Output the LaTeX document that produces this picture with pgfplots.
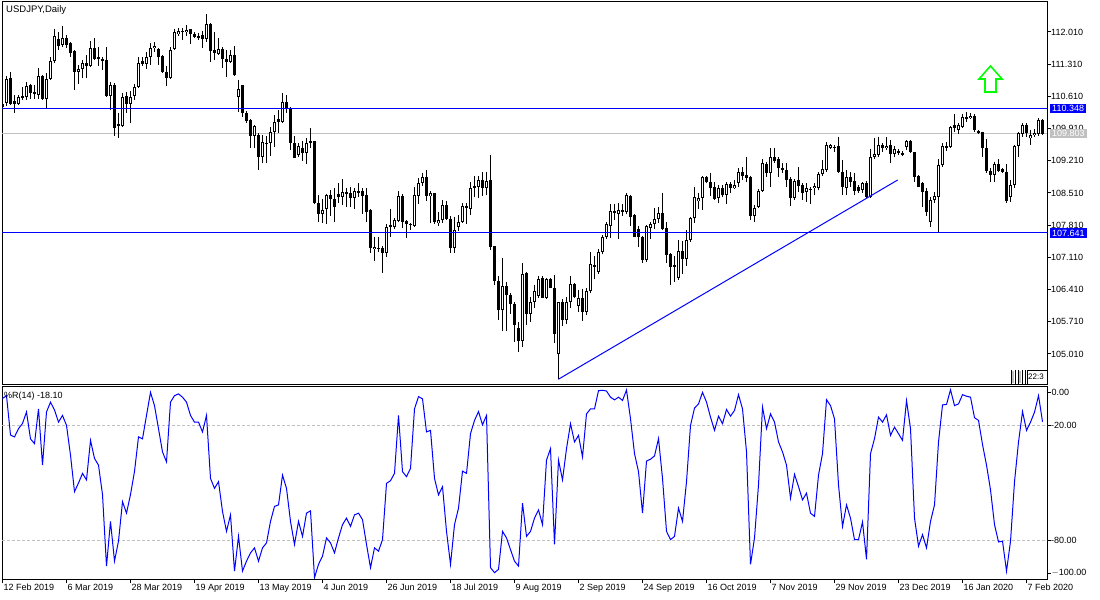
\documentclass[border=0pt]{standalone}
\usepackage{fontspec}
\setmainfont{Liberation Sans}
\usepackage{pgfplots}
\usepackage{pgfplotstable}
\pgfplotsset{compat=1.18}

\definecolor{mtblue}{RGB}{0,0,255}
\definecolor{mtsilver}{RGB}{192,192,192}
\definecolor{mtlime}{RGB}{0,255,0}
\newcommand\mtfont{\fontsize{9bp}{10bp}\selectfont}

% daily candles, bar index i (12 Feb 2019 = 0)
\pgfplotstableread{
i o h l c
0 110.45 110.50 110.35 110.37
1 110.46 111.05 110.40 110.99
2 111.00 111.15 110.42 110.445
3 110.50 110.64 110.26 110.44
4 110.445 110.64 110.42 110.60
5 110.59 110.82 110.53 110.62
6 110.59 110.93 110.53 110.84
7 110.85 110.89 110.55 110.69
8 110.71 110.86 110.55 110.66
9 110.64 111.22 110.55 111.05
10 111.05 111.08 110.53 110.56
11 110.56 111.11 110.35 110.99
12 110.98 111.47 110.97 111.38
13 111.37 112.08 111.33 111.92
14 111.86 112.02 111.63 111.71
15 111.73 112.14 111.68 111.87
16 111.87 111.95 111.66 111.73
17 111.78 111.80 111.47 111.55
18 111.60 111.62 110.75 111.15
19 111.15 111.29 110.88 111.21
20 111.20 111.40 111.00 111.33
21 111.33 111.51 111.00 111.26
22 111.26 111.82 111.24 111.66
23 111.66 111.89 111.40 111.42
24 111.46 111.69 111.27 111.42
25 111.43 111.46 111.18 111.39
26 111.40 111.69 110.60 110.63
27 110.63 110.93 110.32 110.85
28 110.85 110.91 109.74 109.93
29 110.01 110.24 109.70 109.97
30 109.97 110.69 109.94 110.60
31 110.62 110.71 110.24 110.445
32 110.445 110.735 110.025 110.60
33 110.62 110.89 110.53 110.81
34 110.81 111.46 110.80 111.34
35 111.37 111.47 111.26 111.32
36 111.31 111.58 111.20 111.47
37 111.47 111.78 111.29 111.66
38 111.655 111.80 111.58 111.71
39 111.63 111.66 111.29 111.46
40 111.49 111.51 111.13 111.13
41 111.14 111.27 110.84 111.00
42 111.00 111.69 110.98 111.63
43 111.63 112.08 111.62 112.00
44 111.96 112.09 111.92 112.03
45 112.03 112.09 111.84 112.02
46 112.00 112.16 111.92 112.05
47 112.07 112.08 111.76 111.96
48 111.97 112.02 111.87 111.91
49 111.92 111.98 111.84 111.89
50 111.95 112.04 111.655 111.85
51 111.85 112.40 111.80 112.18
52 112.18 112.21 111.365 111.605
53 111.62 112.02 111.40 111.55
54 111.525 111.89 111.51 111.63
55 111.63 111.69 111.22 111.42
56 111.42 111.62 111.04 111.365
57 111.36 111.63 111.33 111.51
58 111.51 111.71 111.05 111.08
59 110.60 110.97 110.28 110.76
60 110.86 110.86 110.17 110.24
61 110.24 110.29 110.04 110.08
62 110.10 110.13 109.48 109.75
63 109.75 109.99 109.48 109.97
64 109.77 109.81 109.01 109.30
65 109.30 109.77 109.155 109.61
66 109.60 109.75 109.155 109.59
67 109.59 109.95 109.315 109.83
68 109.83 110.21 109.50 110.05
69 110.12 110.315 109.81 110.05
70 110.06 110.68 110.025 110.48
71 110.48 110.64 110.24 110.35
72 110.35 110.39 109.445 109.59
73 109.59 109.75 109.26 109.28
74 109.33 109.59 109.29 109.53
75 109.48 109.63 109.21 109.37
76 109.37 109.70 109.14 109.59
77 109.59 109.92 109.48 109.63
78 109.63 109.64 108.27 108.29
79 108.29 108.47 107.89 108.06
80 108.06 108.37 107.85 108.14
81 108.16 108.49 107.84 108.47
82 108.46 108.58 108.00 108.39
83 108.39 108.61 107.89 108.20
84 108.49 108.72 108.29 108.43
85 108.43 108.81 108.25 108.525
86 108.53 108.61 108.21 108.50
87 108.52 108.65 108.20 108.395
88 108.395 108.61 108.155 108.55
89 108.55 108.72 108.42 108.50
90 108.55 108.61 108.06 108.45
91 108.47 108.61 107.89 108.105
92 108.13 108.16 107.21 107.31
93 107.29 107.55 107.04 107.34
94 107.31 107.55 107.235 107.30
95 107.31 107.36 106.78 107.20
96 107.20 107.84 107.11 107.78
97 107.81 108.155 107.56 107.78
98 107.78 107.96 107.72 107.92
99 107.91 108.55 107.89 108.445
100 108.445 108.49 107.74 107.89
101 107.90 107.92 107.54 107.83
102 107.84 107.865 107.71 107.83
103 107.79 108.65 107.76 108.47
104 108.445 108.83 108.27 108.72
105 108.72 108.95 108.66 108.85
106 108.85 109.00 108.34 108.45
107 108.45 108.55 107.865 108.50
108 108.50 108.52 107.84 107.89
109 107.85 108.105 107.79 107.92
110 107.92 108.36 107.865 108.25
111 108.25 108.34 107.92 107.945
112 107.94 108.00 107.21 107.31
113 107.31 107.98 107.21 107.71
114 107.78 108.03 107.69 107.87
115 107.87 108.30 107.85 108.23
116 108.23 108.29 107.84 108.18
117 108.16 108.76 108.03 108.63
118 108.63 108.88 108.42 108.66
119 108.63 108.88 108.41 108.79
120 108.79 108.97 108.445 108.61
121 108.61 108.97 108.47 108.77
122 108.79 109.34 107.27 107.34
123 107.36 107.36 106.51 106.60
124 106.60 106.71 105.75 105.97
125 105.97 107.10 105.51 106.49
126 106.49 106.58 105.50 106.29
127 106.29 106.33 105.89 106.10
128 106.10 106.15 105.28 105.64
129 105.57 105.71 105.06 105.30
130 105.30 106.98 105.17 106.76
131 106.76 106.80 105.64 105.89
132 105.89 106.26 105.71 106.15
133 106.15 106.51 106.00 106.38
134 106.27 106.71 106.235 106.63
135 106.655 106.71 106.235 106.235
136 106.235 106.655 106.20 106.63
137 106.63 106.655 106.44 106.45
138 106.44 106.73 105.26 105.44
139 105.00 106.15 104.46 106.13
140 106.15 106.20 105.62 105.76
141 105.76 106.24 105.66 106.15
142 106.15 106.71 106.00 106.525
143 106.525 106.56 106.22 106.26
144 106.05 106.40 105.93 106.22
145 106.22 106.42 105.735 105.93
146 105.93 106.44 105.86 106.39
147 106.39 107.235 106.34 106.96
148 106.945 107.14 106.63 106.91
149 106.80 107.29 106.76 107.235
150 107.235 107.60 107.18 107.55
151 107.55 107.89 107.50 107.84
152 107.80 108.27 107.53 108.12
153 108.11 108.27 107.92 108.10
154 108.06 108.29 107.50 108.14
155 108.105 108.27 108.00 108.14
156 108.105 108.50 108.06 108.47
157 108.445 108.47 107.79 108.00
158 108.025 108.06 107.55 107.56
159 107.72 107.79 107.34 107.55
160 107.56 107.58 106.98 107.05
161 107.05 107.815 107.02 107.79
162 107.76 107.89 107.50 107.84
163 107.84 108.18 107.72 107.945
164 107.945 108.20 107.85 108.08
165 108.08 108.50 107.71 107.72
166 107.74 107.89 106.98 107.16
167 107.18 107.20 106.51 106.91
168 106.92 107.14 106.58 106.93
169 106.67 107.49 106.63 107.26
170 107.26 107.47 106.75 107.07
171 107.07 107.71 106.92 107.49
172 107.49 107.99 107.45 107.96
173 107.96 108.63 107.85 108.43
174 108.34 108.52 108.155 108.395
175 108.395 108.88 108.14 108.85
176 108.85 108.88 108.735 108.76
177 108.76 108.95 108.445 108.63
178 108.65 108.76 108.36 108.38
179 108.395 108.68 108.29 108.61
180 108.61 108.68 108.43 108.47
181 108.47 108.76 108.27 108.71
182 108.70 108.76 108.50 108.61
183 108.61 108.79 108.59 108.68
184 108.72 109.05 108.65 108.97
185 108.97 109.08 108.79 108.89
186 108.90 109.30 108.76 108.83
187 108.85 108.87 107.92 108.00
188 108.00 108.25 107.89 108.18
189 108.21 108.59 108.18 108.56
190 108.56 109.24 108.54 109.155
191 109.14 109.19 108.865 108.95
192 108.95 109.48 108.65 109.29
193 109.29 109.48 109.155 109.21
194 109.24 109.30 108.865 109.05
195 109.05 109.155 108.94 109.00
196 109.01 109.17 108.65 108.79
197 108.81 108.865 108.23 108.41
198 108.41 108.81 108.36 108.78
199 108.79 109.08 108.54 108.66
200 108.685 108.72 108.36 108.52
201 108.54 108.72 108.32 108.61
202 108.60 108.65 108.27 108.59
203 108.61 108.72 108.47 108.66
204 108.63 108.97 108.58 108.92
205 108.92 109.23 108.88 109.025
206 109.01 109.63 108.97 109.55
207 109.50 109.575 109.46 109.555
208 109.51 109.555 109.41 109.50
209 109.53 109.735 108.94 108.97
210 108.97 109.23 108.47 108.63
211 108.63 109.01 108.47 108.85
212 108.85 108.97 108.65 108.76
213 108.76 108.94 108.47 108.56
214 108.65 108.68 108.50 108.56
215 108.58 108.76 108.50 108.72
216 108.72 108.76 108.40 108.42
217 108.42 109.46 108.40 109.29
218 109.29 109.70 109.26 109.36
219 109.34 109.72 109.29 109.55
220 109.55 109.59 109.41 109.48
221 109.48 109.72 109.445 109.54
222 109.55 109.66 109.17 109.36
223 109.36 109.53 109.30 109.46
224 109.43 109.46 109.34 109.37
225 109.39 109.43 109.315 109.34
226 109.50 109.66 109.45 109.64
227 109.64 109.66 109.39 109.41
228 109.40 109.41 108.76 108.865
229 108.88 108.90 108.63 108.65
230 108.72 108.76 108.21 108.54
231 108.56 108.61 108.00 108.105
232 107.89 108.43 107.78 108.36
233 108.36 108.54 108.29 108.445
234 108.43 109.24 107.641 109.12
235 109.12 109.59 109.08 109.54
236 109.54 109.63 109.43 109.50
237 109.52 109.97 109.48 109.94
238 109.99 110.23 109.84 109.92
239 109.87 110.025 109.79 109.99
240 109.95 110.23 109.92 110.17
241 110.155 110.28 110.06 110.14
242 110.13 110.24 110.11 110.19
243 110.19 110.22 109.84 109.87
244 109.85 109.88 109.79 109.84
245 109.83 109.84 109.29 109.48
246 109.48 109.68 108.95 108.99
247 108.99 109.05 108.74 108.90
248 108.90 109.19 108.76 109.13
249 109.14 109.24 108.97 108.99
250 109.025 109.05 108.94 108.96
251 108.96 109.14 108.30 108.34
252 108.43 108.79 108.32 108.68
253 108.68 109.55 108.61 109.53
254 109.53 109.84 109.30 109.82
255 109.79 110.025 109.735 109.99
256 109.99 110.025 109.735 109.81
257 109.70 109.87 109.55 109.77
258 109.77 109.895 109.735 109.82
259 109.79 110.13 109.75 110.10
260 110.10 110.12 109.77 109.803
}\candles

% Williams %R(14)
\pgfplotstableread{
i r
0 -6
1 -4.5
2 -25
3 -26
4 -21.7
5 -19
6 -13
7 -27
8 -29.5
9 -11.4
10 -40.7
11 -13
12 -7.9
13 -12
14 -18.3
15 -14.8
16 -20
17 -35.5
18 -54.5
19 -50
20 -45
21 -48.4
22 -27.8
23 -37.2
24 -40.7
25 -56
26 -93.3
27 -70
28 -90.7
29 -80.3
30 -59.7
31 -65.7
32 -56
33 -44
34 -26
35 -27
36 -14.8
37 -2.8
38 -9.7
39 -21.7
40 -33.8
41 -39
42 -7.9
43 -4.5
44 -3.6
45 -5.3
46 -7.9
47 -14.8
48 -18.3
49 -18.3
50 -23.4
51 -14.8
52 -47.6
53 -52.8
54 -49.3
55 -64.8
56 -75.2
57 -66.6
58 -95.9
59 -77.8
60 -95.9
61 -90.7
62 -86.4
63 -83.8
64 -90.7
65 -83.8
66 -81.2
67 -70
68 -62.2
69 -61.4
70 -45.9
71 -52.8
72 -70
73 -82
74 -70
75 -77.8
76 -65.7
77 -64.5
78 -99.3
79 -92.4
80 -88.1
81 -78.6
82 -81.2
83 -86.4
84 -78.6
85 -71.7
86 -68.3
87 -72.6
88 -66.6
89 -65.7
90 -69.1
91 -82
92 -94.1
93 -83.8
94 -85.5
95 -79.5
96 -50.2
97 -48.8
98 -45
99 -14.8
100 -44.1
101 -46.7
102 -42.4
103 -11.4
104 -5
105 -6.2
106 -23.4
107 -22.6
108 -47.6
109 -56.2
110 -51.9
111 -75.2
112 -92.4
113 -71.7
114 -63.1
115 -43.8
116 -45
117 -24.3
118 -17.4
119 -12.8
120 -19.7
121 -14.8
122 -94.1
123 -96.7
124 -95
125 -75.2
126 -78.6
127 -84.7
128 -90.7
129 -93.3
130 -60.5
131 -77.8
132 -75.2
133 -68.3
134 -64
135 -71.7
136 -38.1
137 -32.1
138 -82
139 -38.1
140 -48.4
141 -32.1
142 -19.1
143 -28.6
144 -25.2
145 -36.4
146 -14
147 -11.4
148 -11.4
149 -1.9
150 -1.7
151 -2.1
152 -5.3
153 -6.7
154 -5.3
155 -7
156 -1.6
157 -16.6
158 -34.7
159 -44.1
160 -65.7
161 -38.6
162 -37.6
163 -35.9
164 -26.9
165 -47.6
166 -75.2
167 -79.5
168 -77.8
169 -63.1
170 -70
171 -49.3
172 -20
173 -11
174 -8.8
175 -2.8
176 -7.9
177 -15.7
178 -22.6
179 -15.2
180 -19.1
181 -11.7
182 -15.2
183 -12.2
184 -4
185 -11.4
186 -33.8
187 -92.4
188 -78.6
189 -51
190 -10.5
191 -21.7
192 -14
193 -18.3
194 -28.6
195 -33.8
196 -40.7
197 -57.9
198 -45.5
199 -51.9
200 -58.8
201 -55.3
202 -65.7
203 -67.4
204 -45.9
205 -34.7
206 -6.6
207 -9.7
208 -16.6
209 -51
210 -72.6
211 -61.4
212 -68.3
213 -79.5
214 -79.5
215 -70.3
216 -89.8
217 -34.7
218 -26.9
219 -15.7
220 -18.3
221 -14.5
222 -25.2
223 -20.9
224 -24.3
225 -27.8
226 -7.1
227 -21.7
228 -68.3
229 -82.9
230 -76.9
231 -83.8
232 -70
233 -61.4
234 -28.6
235 -9.3
236 -9.1
237 -1.4
238 -9.7
239 -8.8
240 -4
241 -4.8
242 -5.3
243 -16
244 -17.4
245 -30
246 -40.7
247 -53.6
248 -71.7
249 -80.7
250 -80.3
251 -95.9
252 -80.3
253 -49.3
254 -28.6
255 -12.8
256 -22.6
257 -18.3
258 -13.1
259 -4.5
260 -18.1
}\wpr

\pgfplotsset{
  mtaxis/.style={
    scale only axis, width=1045bp,
    xmin=-0.125, xmax=261.125,
    axis line style={black, line width=1bp},
    tick style={black, line width=1bp},
    tick align=outside, major tick length=4bp,
    ytick pos=right, yticklabel pos=right,
    yticklabel style={font=\mtfont, anchor=west, inner sep=0pt},
    clip mode=individual,
  },
  candle/.style n args={2}{draw=none, forget plot,
    error bars/.cd, y dir=both, y explicit, error mark=none,
    error bar style={draw=#1, line width=#2}},
}

\begin{document}
\begin{tikzpicture}
\path[use as bounding box] (0,0) rectangle (1100bp,600bp);
\fill[white] (0,0) rectangle (1100bp,600bp);

% price panel
\begin{axis}[mtaxis,
  at={(2bp,215bp)}, anchor=south west, height=383bp,
  ymin=104.336, ymax=112.662,
  xtick=\empty,
  ytick={105.01,105.71,106.41,107.11,107.81,108.51,109.21,109.91,110.61,111.31,112.01},
  scaled y ticks=false,
  yticklabel style={/pgf/number format/fixed, /pgf/number format/fixed zerofill,
    /pgf/number format/precision=3, /pgf/number format/assume math mode=true},
]
\addplot[mtsilver, line width=1bp] coordinates {(-0.125,109.803) (261.125,109.803)};
% wicks
\addplot[candle={black}{1bp}]
  table[x=i, y expr={(\thisrow{h}+\thisrow{l})/2}, y error expr={(\thisrow{h}-\thisrow{l})/2}] {\candles};
% bodies
\addplot[candle={black}{3bp}]
  table[x=i, y expr={(\thisrow{o}+\thisrow{c})/2}, y error expr={max(abs(\thisrow{o}-\thisrow{c})/2,0.011)}] {\candles};
% hollow inside of rising bodies
\addplot[candle={white}{1bp}]
  table[x=i, y expr={(\thisrow{o}+\thisrow{c})/2}, y error expr={\thisrow{c}>\thisrow{o} ? max((\thisrow{c}-\thisrow{o})/2-0.0217,0) : 0}] {\candles};

\addplot[mtblue, line width=1bp] coordinates {(-0.125,110.348) (261.125,110.348)};
\addplot[mtblue, line width=1bp] coordinates {(-0.125,107.641) (261.125,107.641)};
\addplot[mtblue, line width=1bp] coordinates {(138.95,104.46) (223.8,108.793)};

\draw[mtlime, line width=1.6bp, fill=white, line join=miter]
  (axis cs:247,111.271) -- (axis cs:249.875,110.988) -- (axis cs:248.375,110.988)
  -- (axis cs:248.375,110.706) -- (axis cs:245.625,110.706) -- (axis cs:245.625,110.988)
  -- (axis cs:244.125,110.988) -- cycle;

\node[anchor=west, fill=mtblue, text=white, font=\mtfont, inner xsep=2bp, inner ysep=1.5bp, xshift=3bp]
  at (axis cs:261.125,110.348) {110.348};
\node[anchor=west, fill=mtblue, text=white, font=\mtfont, inner xsep=2bp, inner ysep=1.5bp, xshift=3bp]
  at (axis cs:261.125,107.641) {107.641};
\node[anchor=west, fill=mtsilver, text=white, font=\mtfont, inner xsep=2bp, inner ysep=1.5bp, xshift=3bp]
  at (axis cs:261.125,109.803) {109.803};
\end{axis}

% Williams %R panel
\begin{axis}[mtaxis,
  at={(2bp,21bp)}, anchor=south west, height=192bp,
  ymin=-100, ymax=0,
  ytick={-80,-20},
  yticklabels={-80.00,-20.00},
  xtick={0,16,...,256},
  xticklabels={12 Feb 2019,6 Mar 2019,28 Mar 2019,19 Apr 2019,13 May 2019,4 Jun 2019,26 Jun 2019,18 Jul 2019,9 Aug 2019,2 Sep 2019,24 Sep 2019,16 Oct 2019,7 Nov 2019,29 Nov 2019,23 Dec 2019,16 Jan 2020,7 Feb 2020},
  xtick pos=bottom,
  xticklabel style={font=\mtfont, anchor=north west, inner sep=0pt, xshift=1bp, yshift=-1bp},
]
\addplot[mtsilver, line width=1bp, dash pattern=on 3bp off 2bp] coordinates {(-0.125,-20) (261.125,-20)};
\addplot[mtsilver, line width=1bp, dash pattern=on 3bp off 2bp] coordinates {(-0.125,-80) (261.125,-80)};
\addplot[mtblue, line width=1bp, mark=none] table[x=i, y=r] {\wpr};
\end{axis}

% end labels of the %R scale sit just inside its 0 and -100 limits
\draw[black, line width=1bp] (1047bp,207.2bp) -- (1051bp,207.2bp);
\node[anchor=west, inner sep=0pt, font=\mtfont, text=black] at (1051.5bp,207.2bp) {0.00};
\draw[black, line width=1bp] (1047bp,26.8bp) -- (1051bp,26.8bp);
\node[anchor=west, inner sep=0pt, font=\mtfont, text=black] at (1051.5bp,26.8bp) {$-$100.00};

\node[anchor=west, inner sep=0pt, font=\fontsize{9.5bp}{11bp}\selectfont] at (6bp,590bp) {USDJPY,Daily};
\node[anchor=west, inner sep=0pt, font=\mtfont] at (4bp,203.5bp) {\%R(14) -18.10};

% small clock widget at the bottom right of the price panel
\foreach \xx in {1011,1015,1018,1022,1025}
  \draw[black, line width=0.8bp] (\xx bp,216bp) -- (\xx bp,230bp);
\fill[mtsilver] (1012bp,217bp) rectangle (1014bp,229bp);
\fill[mtsilver] (1019bp,217bp) rectangle (1021bp,229bp);
\draw[black, line width=0.8bp] (1027bp,216bp) rectangle (1047bp,230bp);
\node[anchor=west, inner sep=0pt, font=\fontsize{8bp}{9bp}\selectfont] at (1028bp,223bp) {22:3};
\end{tikzpicture}
\end{document}
